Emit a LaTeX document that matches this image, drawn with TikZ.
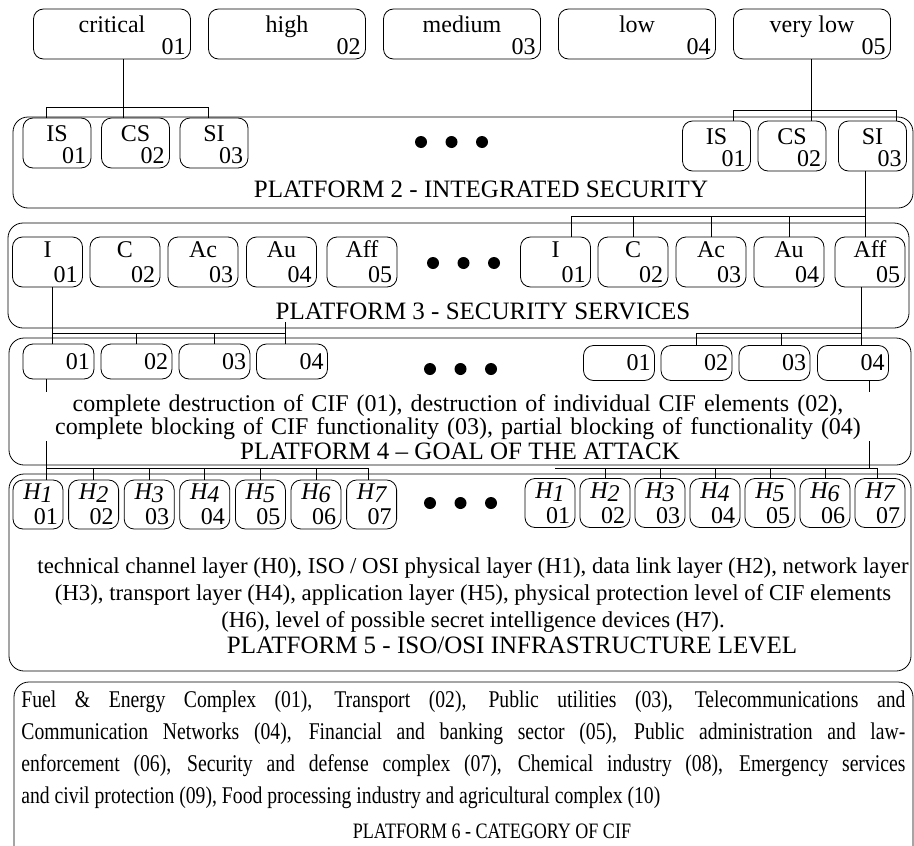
\documentclass[tikz,border=0pt]{standalone}
\usepackage{fontspec}
\setmainfont{Liberation Serif}
\newfontfamily\narrowfont[FakeStretch=0.82]{Liberation Serif}
\usetikzlibrary{positioning,calc}
\newcommand{\hlab}[1]{\textit{H\raisebox{-.3ex}{#1}}}

\begin{document}
\begin{tikzpicture}[x=1pt,y=-1pt,line width=0.8pt,font=\fontsize{24}{27}\selectfont,
  tag/.style={draw,rounded corners=10pt,inner sep=0pt,minimum height=50pt},
  nm/.style={label={[anchor=base,inner sep=0pt,yshift=-\labdrop]north:#1}},
  nr/.style={label={[anchor=base east,inner sep=0pt,xshift=-5pt,yshift=4.5pt]south east:#1}},
  plat/.style={draw,rounded corners=15pt},
  ttl/.style={anchor=base,inner sep=0pt,font=\fontsize{25}{28}\selectfont}]
  \useasboundingbox (0,0) rectangle (914,846);
  % piattaforme
  \draw[plat] (13,117) rectangle (913,208);
  \draw[plat] (8,223) rectangle (909,328);
  \draw[plat] (9,338) rectangle (911,465);
  \draw[plat] (9,474) rectangle (911,671);
  \draw[plat] (14,682) rectangle (913,880);
  % livelli
  \def\labdrop{24pt}
  \foreach \x/\lab/\k in {112/critical/1,287/high/2,462/medium/3,637/low/4,812/very low/5}
    \node[tag,minimum width=157pt,nm=\lab,nr=0\k] (lv\k) at (\x,34) {};
  % piattaforma 2
  \foreach \x/\lab/\k in {57/IS/1,135.5/CS/2,214/SI/3}
    \node[tag,minimum width=68pt,nm=\lab,nr=0\k] (sl\k) at (\x,143) {};
  \foreach \x/\lab/\k in {716.5/IS/1,792/CS/2,872.5/SI/3}
    \node[tag,minimum width=68pt,nm=\lab,nr=0\k] (sr\k) at (\x,146) {};
  % piattaforma 3
  \def\labdrop{21pt}
  \foreach \x/\lab/\k in {47.5/I/1,125/C/2,203/Ac/3,281.5/Au/4,362/Aff/5}
    \node[tag,minimum width=70pt,nm=\lab,nr=0\k] (al\k) at (\x,262) {};
  \foreach \x/\lab/\k in {555.5/I/1,633/C/2,711/Ac/3,789/Au/4,870/Aff/5}
    \node[tag,minimum width=70pt,nm=\lab,nr=0\k] (ar\k) at (\x,262) {};
  % piattaforma 4
  \foreach \x/\k in {58.5/1,136.5/2,214.5/3,292/4}
    \node[tag,minimum height=35pt,minimum width=71pt,text width=63pt,align=right] (gl\k) at (\x,361.5) {0\k};
  \foreach \x/\k in {619/1,696.5/2,774.5/3,853/4}
    \node[tag,minimum height=35pt,minimum width=71pt,text width=63pt,align=right] (gr\k) at (\x,363) {0\k};
  % piattaforma 5
  \def\labdrop{20pt}
  \foreach \k in {1,...,7}
    \node[tag,minimum width=50pt,minimum height=49pt,nm=\hlab{\k},nr=0\k] (hl\k) at ({38+55.6*(\k-1)},504.5) {};
  \foreach \k in {1,...,7}
    \node[tag,minimum width=50pt,minimum height=49pt,nm=\hlab{\k},nr=0\k] (hr\k) at ({550+55*(\k-1)},503) {};
  % collegamenti
  \coordinate (bar1) at (0,107);
  \coordinate (bar2) at (0,110);
  \coordinate (bar3) at (0,216);
  \coordinate (bar4) at (0,333);
  \coordinate (bar5) at (0,468.5);
  \coordinate (tick) at (0,322);
  \draw ([xshift=11pt]lv1.south) -- ([xshift=11pt]lv1.south |- sl2.north);
  \draw ([xshift=-11pt]sl1.north) -- ([xshift=-11pt]sl1.north |- bar1) -| ([xshift=-6pt]sl3.north);
  \draw ([xshift=-1pt]lv5.south) -- ([xshift=-1pt]lv5.south |- sr2.north);
  \draw ([xshift=16.5pt]sr1.north) -- ([xshift=16.5pt]sr1.north |- bar2) -| ([xshift=23.5pt]sr3.north);
  \draw ([xshift=-7.5pt]sr3.south) -- ([xshift=-7.5pt]sr3.south |- ar5.north);
  \draw ([xshift=15.5pt]ar1.north) -- ([xshift=15.5pt]ar1.north |- bar3) -- ([xshift=-7.5pt]sr3.south |- bar3);
  \foreach \k in {2,3,4} \draw (ar\k.north) -- (ar\k.north |- bar3);
  \draw ([xshift=4.5pt]al1.south) -- ([xshift=4.5pt]al1.south |- gl1.north);
  \draw ([xshift=4.5pt]al1.south |- bar4) -| ([xshift=-7pt]gl4.north);
  \draw ([xshift=-7pt]gl4.north |- bar4) -- ([xshift=-7pt]gl4.north |- tick);
  \foreach \k in {2,3} \draw (gl\k.north) -- (gl\k.north |- bar4);
  \draw ([xshift=-9pt]ar5.south) -- ([xshift=-9pt]ar5.south |- gr4.north);
  \draw (gr2.north) -- (gr2.north |- bar4) -- ([xshift=-9pt]ar5.south |- bar4);
  \draw ([xshift=6.5pt]gr3.north) -- ([xshift=6.5pt]gr3.north |- bar4);
  \draw ([xshift=-12.5pt]gl1.south) -- ([xshift=-12.5pt]gl1.south |- hl1.north);
  \draw ([xshift=-12.5pt]gl1.south |- bar5) -| ([xshift=-3.5pt]hl7.north);
  \foreach \k in {2,...,6} \draw (hl\k.north) -- (hl\k.north |- bar5);
  \draw ([xshift=16pt]gr4.south) -- ([xshift=16pt]gr4.south |- bar5);
  \draw ([xshift=5pt]hr1.north |- bar5) -| ([xshift=-3pt]hr7.north);
  \foreach \k in {2,...,6} \draw (hr\k.north) -- (hr\k.north |- bar5);
  % puntini
  \foreach \y/\x in {142/421,263/433,369/430,503/430}
    \foreach \j in {0,1,2} \fill ({\x+30.5*\j},\y) circle (6pt);
  % testi
  \node[ttl] (p2ttl) at (481,197) {PLATFORM 2 - INTEGRATED SECURITY};
  \node[ttl] (p3ttl) at (483,319) {PLATFORM 3 - SECURITY SERVICES};
  \node[anchor=north,fill=white,inner sep=2pt,text width=826pt,align=center,font=\fontsize{24}{20.5}\selectfont] (p4txt) at (458,392)
    {complete destruction of CIF (01), destruction of individual CIF elements (02),\\complete blocking of CIF functionality (03), partial blocking of functionality (04)};
  \node[ttl] (p4ttl) at (460,459) {PLATFORM 4 – GOAL OF THE ATTACK};
  \node[anchor=north,inner sep=0pt,align=center,font=\fontsize{22.8}{27}\selectfont] (p5txt) at (473,557)
    {technical channel layer (H0), ISO / OSI physical layer (H1), data link layer (H2), network layer\\(H3), transport layer (H4), application layer (H5), physical protection level of CIF elements\\(H6), level of possible secret intelligence devices (H7).};
  \node[ttl] (p5ttl) at (512,653) {PLATFORM 5 - ISO/OSI INFRASTRUCTURE LEVEL};
  \node[anchor=north west,inner sep=0pt,text width=884pt,align=justify,font=\narrowfont\fontsize{24}{32}\selectfont] (p6txt) at (21,690)
    {Fuel \& Energy Complex (01), Transport (02), Public utilities (03), Telecommunications and\linebreak Communication Networks (04), Financial and banking sector (05), Public administration and law-\linebreak enforcement (06), Security and defense complex (07), Chemical industry (08), Emergency services\linebreak and civil protection (09), Food processing industry and agricultural complex (10)};
  \node[ttl,font=\narrowfont\fontsize{22}{26}\selectfont] (p6ttl) at (492,838) {PLATFORM 6 - CATEGORY OF CIF};
\end{tikzpicture}
\end{document}
